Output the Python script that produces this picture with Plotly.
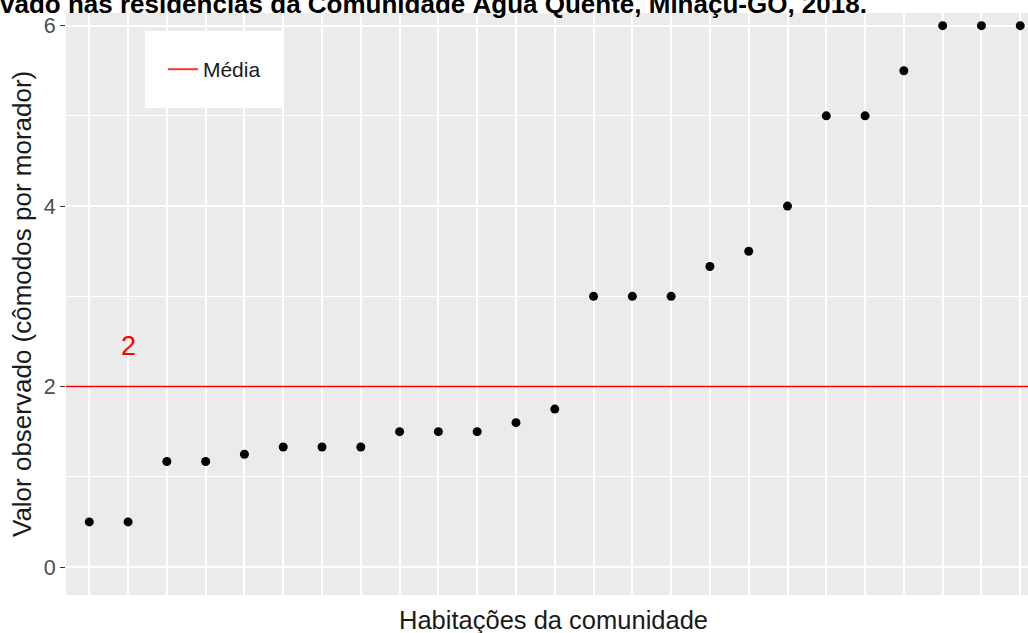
import plotly.graph_objects as go

habitacoes = list(range(1, 26))
valores = [0.5, 0.5, 1.17, 1.17, 1.25, 1.33, 1.33, 1.33, 1.5, 1.5, 1.5, 1.6, 1.75,
           3, 3, 3, 3.33, 3.5, 4, 5, 5, 5.5, 6, 6, 6]
media = 2
media_label = "2"
y_ticks = [0, 2, 4, 6]
titulo = "vado nas residências da Comunidade Água Quente, Minaçu-GO, 2018."
x_titulo = "Habitações da comunidade"
y_titulo = "Valor observado (cômodos por morador)"

fig = go.Figure()
fig.add_trace(go.Scatter(x=habitacoes, y=valores, mode="markers",
                         marker=dict(color="black", size=9), showlegend=False))
fig.add_trace(go.Scatter(x=[None], y=[None], mode="lines", name="Média",
                         line=dict(color="#FF3333", width=2), showlegend=True))
fig.add_hline(y=media, line=dict(color="#FF0000", width=1.5), layer="above")
fig.add_annotation(x=habitacoes[1], y=media + 0.45, text=media_label, showarrow=False,
                   font=dict(color="#FF0000", size=27, family="Liberation Sans"))
fig.add_annotation(xref="paper", yref="paper", x=-0.0707, y=1.0158, xanchor="left", yanchor="middle",
                   text="<b>" + titulo + "</b>", showarrow=False,
                   font=dict(color="black", size=26, family="Liberation Sans"))
fig.add_annotation(xref="paper", yref="paper", x=0.507, y=-0.043, xanchor="center", yanchor="middle",
                   text=x_titulo, showarrow=False,
                   font=dict(color="#1a1a1a", size=25.5, family="Liberation Sans"))
fig.add_annotation(xref="paper", yref="paper", x=-0.0457, y=0.5, xanchor="center", yanchor="middle",
                   text=y_titulo, textangle=-90, showarrow=False,
                   font=dict(color="#1a1a1a", size=26, family="Liberation Sans"))

fig.update_layout(
    width=1028, height=633,
    margin=dict(l=66, r=0, t=13, b=38, autoexpand=False),
    paper_bgcolor="white", plot_bgcolor="#EBEBEB",
    font=dict(family="Liberation Sans", color="#1a1a1a"),
    legend=dict(x=0.082, y=0.969, xanchor="left", yanchor="top",
                bgcolor="white", bordercolor="white", borderwidth=18,
                font=dict(size=21, color="#1a1a1a")),
    xaxis=dict(range=[0.4, 25.2], tickvals=habitacoes, showticklabels=False, ticks="",
               showgrid=True, gridcolor="white", gridwidth=1.5, zeroline=False, automargin=False),
    yaxis=dict(range=[-0.31, 6.14], tickvals=y_ticks, ticks="outside", ticklen=5,
               tickcolor="#333333", tickwidth=1.2,
               tickfont=dict(size=21.5, color="#4D4D4D"),
               showgrid=True, gridcolor="white", gridwidth=1.5, zeroline=False, automargin=False,
               minor=dict(dtick=1, showgrid=True, gridcolor="white", gridwidth=0.7, ticks="")),
)
fig.write_html("out.html", config={"displayModeBar": False},
               post_script="document.body.style.margin='0px';")
